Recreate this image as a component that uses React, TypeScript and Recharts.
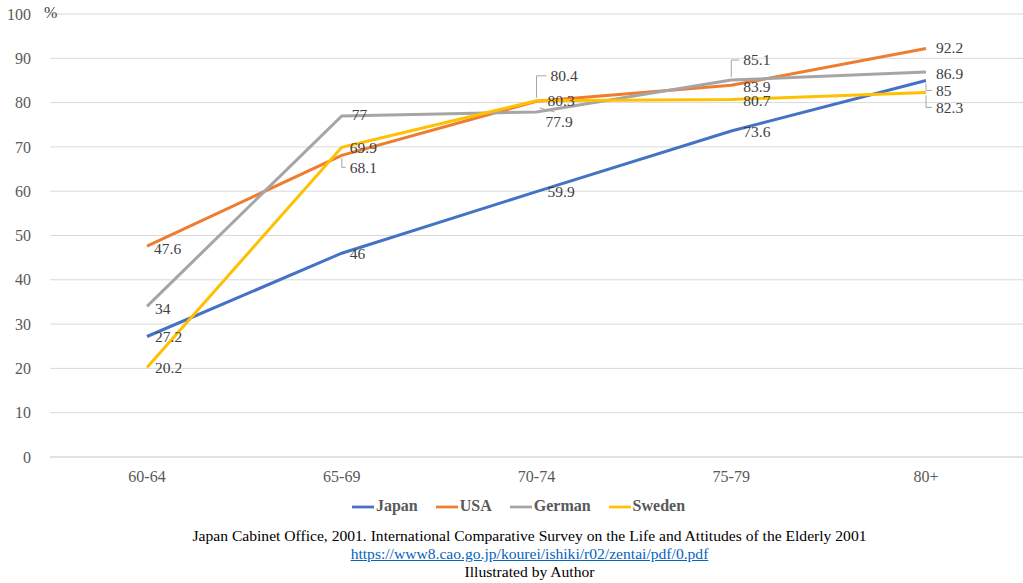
import { LineChart, Line, XAxis, YAxis, CartesianGrid, Legend, LabelList } from 'recharts'

const ageGroups = ['60-64', '65-69', '70-74', '75-79', '80+']
const japan = [27.2, 46, 59.9, 73.6, 85]
const usa = [47.6, 68.1, 80.3, 83.9, 92.2]
const german = [34, 77, 77.9, 85.1, 86.9]
const sweden = [20.2, 69.9, 80.4, 80.7, 82.3]
const yTicks = [0, 10, 20, 30, 40, 50, 60, 70, 80, 90, 100]
const seriesOrder = ['Japan', 'USA', 'German', 'Sweden']

const data = ageGroups.map((age, i) => ({
  age,
  Japan: japan[i],
  USA: usa[i],
  German: german[i],
  Sweden: sweden[i],
}))

const FONT = '"Liberation Serif", "DejaVu Serif", serif'

// where each data label sits relative to its point, and whether it gets a leader line
type Place = { dx: number; dy: number; leader?: 'L' | 'diag' }

const japanPlaces: Place[] = [
  { dx: 8, dy: 0 }, { dx: 8, dy: 0 }, { dx: 11, dy: 0 }, { dx: 12, dy: 1 }, { dx: 10, dy: 10, leader: 'L' },
]
const usaPlaces: Place[] = [
  { dx: 7, dy: 2 }, { dx: 8, dy: 12, leader: 'L' }, { dx: 11, dy: -1 }, { dx: 12, dy: 1 }, { dx: 10, dy: -1 },
]
const germanPlaces: Place[] = [
  { dx: 8, dy: 2 }, { dx: 10, dy: -1 }, { dx: 9, dy: 10, leader: 'diag' }, { dx: 12, dy: -20, leader: 'L' }, { dx: 10, dy: 2 },
]
const swedenPlaces: Place[] = [
  { dx: 8, dy: 0 }, { dx: 8, dy: 0 }, { dx: 14, dy: -25, leader: 'L' }, { dx: 12, dy: 1 }, { dx: 10, dy: 15, leader: 'L' },
]

const pointLabel = (places: Place[]) => (props: any) => {
  const { x, y, value, index } = props
  const p = places[index] || { dx: 8, dy: 0 }
  const tx = x + p.dx
  const ty = y + p.dy
  let leader = null
  if (p.leader === 'L') {
    leader = (
      <polyline
        points={`${x},${y + Math.sign(p.dy) * 3} ${x},${ty} ${tx - 4},${ty}`}
        fill="none"
        stroke="#A6A6A6"
        strokeWidth={1}
      />
    )
  } else if (p.leader === 'diag') {
    leader = <line x1={x + 3} y1={y - 4} x2={tx + 9} y2={ty - 10} stroke="#A6A6A6" strokeWidth={1} />
  }
  return (
    <g>
      {leader}
      <text x={tx} y={ty} dy="0.35em" fill="#404040" fontSize={15.5} fontFamily={FONT}>
        {value}
      </text>
    </g>
  )
}

const legendText = (value: string) => (
  <span style={{ color: '#595959', fontWeight: 'bold', fontSize: 16, fontFamily: FONT, marginLeft: -2, marginRight: 8 }}>
    {value}
  </span>
)

export default function App() {
  return (
    <div style={{ position: 'absolute', left: 0, top: 0, width: 1023, height: 583, background: '#fff' }}>
      <span style={{ position: 'absolute', left: 44, top: 4, fontSize: 16, fontFamily: FONT, color: '#404040', zIndex: 2 }}>%</span>
      <LineChart width={1023} height={521} data={data} margin={{ top: 14, right: 0, left: 0, bottom: 0 }}>
        <CartesianGrid vertical={false} stroke="#D9D9D9" strokeWidth={1} />
        <XAxis
          dataKey="age"
          height={34}
          padding={{ left: 97, right: 97 }}
          axisLine={{ stroke: '#D9D9D9' }}
          tickLine={false}
          tickMargin={8}
          tick={{ fill: '#595959', fontSize: 16, fontFamily: FONT }}
        />
        <YAxis
          width={50}
          domain={[0, 100]}
          ticks={yTicks}
          axisLine={false}
          tickLine={false}
          tickMargin={13}
          tick={{ fill: '#595959', fontSize: 16, fontFamily: FONT }}
        />
        <Legend
          verticalAlign="bottom"
          iconType="plainline"
          iconSize={22}
          formatter={legendText}
          itemSorter={(item: any) => seriesOrder.indexOf(item.value)}
          wrapperStyle={{ height: 30, lineHeight: '30px', left: 0, width: 1023, paddingLeft: 16 }}
        />
        <Line dataKey="Japan" stroke="#4472C4" strokeWidth={3} dot={false} isAnimationActive={false}>
          <LabelList dataKey="Japan" content={pointLabel(japanPlaces)} />
        </Line>
        <Line dataKey="USA" stroke="#ED7D31" strokeWidth={3} dot={false} isAnimationActive={false}>
          <LabelList dataKey="USA" content={pointLabel(usaPlaces)} />
        </Line>
        <Line dataKey="German" stroke="#A5A5A5" strokeWidth={3} dot={false} isAnimationActive={false}>
          <LabelList dataKey="German" content={pointLabel(germanPlaces)} />
        </Line>
        <Line dataKey="Sweden" stroke="#FFC000" strokeWidth={3} dot={false} isAnimationActive={false}>
          <LabelList dataKey="Sweden" content={pointLabel(swedenPlaces)} />
        </Line>
      </LineChart>
      <div
        style={{
          position: 'absolute',
          left: 0,
          top: 527,
          width: 1023,
          paddingLeft: 36,
          boxSizing: 'border-box',
          textAlign: 'center',
          fontFamily: FONT,
          fontSize: 15.6,
          lineHeight: '18px',
          color: '#000',
        }}
      >
        <div>Japan Cabinet Office, 2001. International Comparative Survey on the Life and Attitudes of the Elderly 2001</div>
        <div style={{ color: '#0563C1', textDecoration: 'underline' }}>https://www8.cao.go.jp/kourei/ishiki/r02/zentai/pdf/0.pdf</div>
        <div>Illustrated by Author</div>
      </div>
    </div>
  )
}
